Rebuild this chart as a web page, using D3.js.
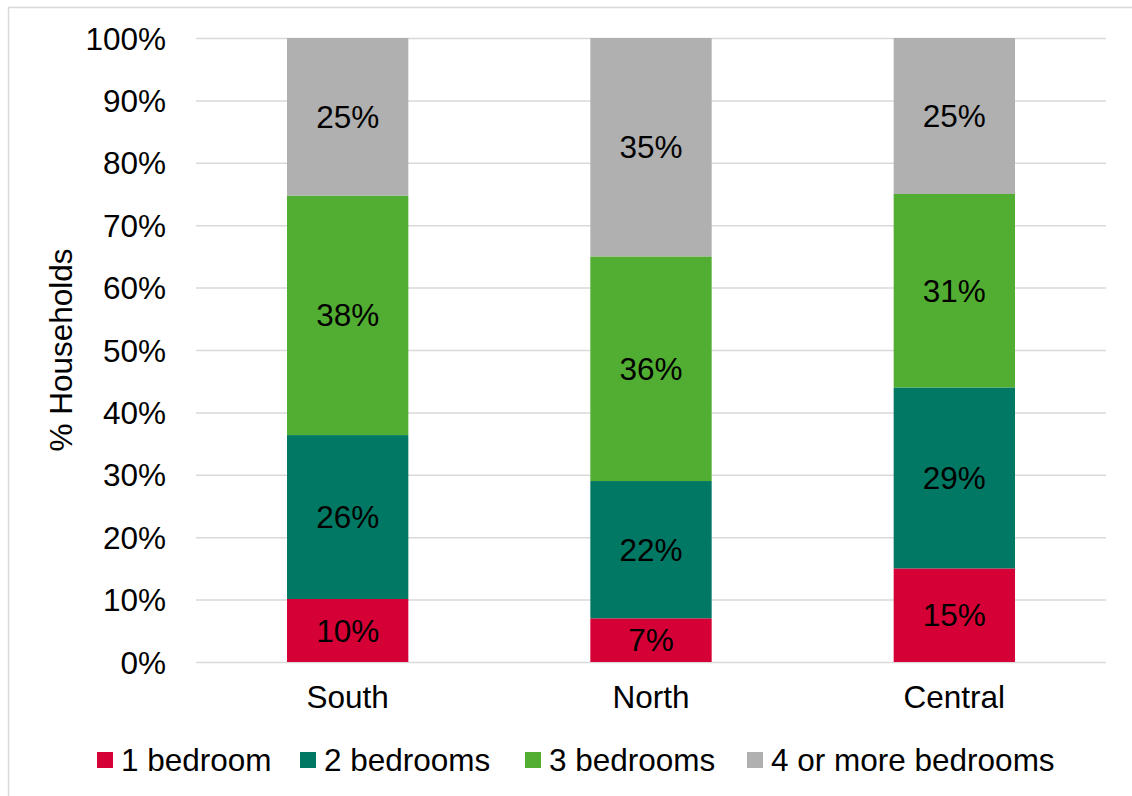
<!DOCTYPE html>
<html>
<head>
<meta charset="utf-8">
<script src="https://cdn.jsdelivr.net/npm/d3@7"></script>
<style>
  html, body { margin: 0; padding: 0; background: #fff; }
  svg { display: block; font-family: "Liberation Sans", Arial, sans-serif; }
</style>
</head>
<body>
<svg id="chart" width="1132" height="796"></svg>
<script>
// Regions shown on the x axis
const regions = ["South", "North", "Central"];
// Bedroom-size groups, bottom to top of each column
const groups = ["1 bedroom", "2 bedrooms", "3 bedrooms", "4 or more bedrooms"];
const colors = ["#D50036", "#007864", "#52AE32", "#B0B0B0"];
// Share of households (%) per region, one array per group
const oneBed = [10, 7, 15];
const twoBed = [26, 22, 29];
const threeBed = [38, 36, 31];
const fourPlusBed = [25, 35, 25];
const yTicks = [0, 0.1, 0.2, 0.3, 0.4, 0.5, 0.6, 0.7, 0.8, 0.9, 1];

const seriesValues = [oneBed, twoBed, threeBed, fourPlusBed];
const rows = regions.map((r, i) => {
  const o = { region: r };
  groups.forEach((g, j) => { o[g] = seriesValues[j][i]; });
  return o;
});

const svg = d3.select("#chart");
const W = 1132, H = 796;
const plot = { left: 196, right: 1106, top: 38, bottom: 662 };
const fontSize = 31.5;

// Outer frame
svg.append("rect")
  .attr("x", 8.5).attr("y", 7.5)
  .attr("width", W).attr("height", H)
  .attr("fill", "none").attr("stroke", "#D9D9D9").attr("stroke-width", 1.5);

const x = d3.scaleBand()
  .domain(regions)
  .range([plot.left, plot.right])
  .paddingInner(0.6)
  .paddingOuter(0.3);

const y = d3.scaleLinear().domain([0, 1]).range([plot.bottom, plot.top]);

// 100% stacked layout
const stacked = d3.stack().keys(groups).offset(d3.stackOffsetExpand)(rows);

// Horizontal gridlines and percentage ticks
const yAxis = d3.axisLeft(y)
  .tickValues(yTicks)
  .tickFormat(d3.format(".0%"))
  .tickSize(-(plot.right - plot.left))
  .tickPadding(30);

const gy = svg.append("g")
  .attr("transform", `translate(${plot.left},0)`)
  .call(yAxis);
gy.select(".domain").remove();
gy.selectAll(".tick line").attr("stroke", "#D9D9D9").attr("stroke-width", 1.5);
gy.selectAll(".tick text")
  .attr("fill", "#000")
  .attr("font-size", fontSize)
  .attr("font-family", "Liberation Sans, Arial, sans-serif")
  .attr("dy", "0.35em");

// Stacked columns
const layers = svg.append("g").selectAll("g")
  .data(stacked)
  .join("g")
  .attr("fill", (d, i) => colors[i]);

layers.selectAll("rect")
  .data(d => d)
  .join("rect")
  .attr("x", d => x(d.data.region))
  .attr("width", x.bandwidth())
  .attr("y", d => y(d[1]))
  .attr("height", d => y(d[0]) - y(d[1]));

// Value labels centred in each segment
stacked.forEach((layer, j) => {
  svg.append("g").selectAll("text")
    .data(layer)
    .join("text")
    .attr("x", d => x(d.data.region) + x.bandwidth() / 2)
    .attr("y", d => y((d[0] + d[1]) / 2))
    .attr("dy", "0.35em")
    .attr("text-anchor", "middle")
    .attr("font-size", fontSize)
    .attr("fill", "#000")
    .text(d => d.data[groups[j]] + "%");
});

// Category axis labels
const gx = svg.append("g")
  .attr("transform", `translate(0,${plot.bottom})`)
  .call(d3.axisBottom(x).tickSize(0).tickPadding(24));
gx.select(".domain").remove();
gx.selectAll(".tick text")
  .attr("fill", "#000")
  .attr("font-size", fontSize)
  .attr("font-family", "Liberation Sans, Arial, sans-serif");

// Y axis title
svg.append("text")
  .attr("transform", `translate(72,${(plot.top + plot.bottom) / 2}) rotate(-90)`)
  .attr("text-anchor", "middle")
  .attr("font-size", fontSize)
  .attr("fill", "#000")
  .text("% Households");

// Legend
const legendX = [97, 300, 525, 747];
const legend = svg.append("g");
groups.forEach((g, i) => {
  legend.append("rect")
    .attr("x", legendX[i]).attr("y", 752)
    .attr("width", 16).attr("height", 16)
    .attr("fill", colors[i]);
  legend.append("text")
    .attr("x", legendX[i] + 24).attr("y", 771)
    .attr("font-size", fontSize)
    .attr("fill", "#000")
    .text(g);
});
</script>
</body>
</html>
